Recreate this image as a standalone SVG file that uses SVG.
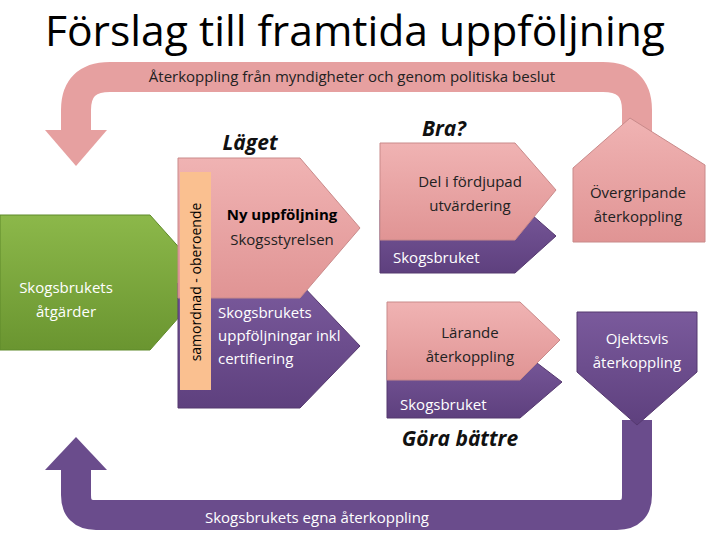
<svg xmlns="http://www.w3.org/2000/svg" width="715" height="552" viewBox="0 0 715 552">
<defs>
<linearGradient id="pk" x1="0" y1="0" x2="0" y2="1"><stop offset="0" stop-color="#f0b3b3"/><stop offset="1" stop-color="#e09494"/></linearGradient>
<linearGradient id="pu" x1="0" y1="0" x2="0" y2="1"><stop offset="0" stop-color="#7a5a9c"/><stop offset="1" stop-color="#5e407e"/></linearGradient>
<linearGradient id="gr" x1="0" y1="0" x2="0" y2="1"><stop offset="0" stop-color="#8cb84a"/><stop offset="1" stop-color="#6a9530"/></linearGradient>
</defs>
<style>
text{font-family:"Open Sans","Noto Sans","Liberation Sans",sans-serif;font-size:15px;fill:#222}
.w{fill:#fff}
.c{text-anchor:middle}
.h{font-weight:bold;font-style:italic;font-size:21px;fill:#111}
.pk{fill:url(#pk);stroke:#c98a8a;stroke-width:1}
.pu{fill:url(#pu);stroke:#55386f;stroke-width:1}
</style>
<rect width="715" height="552" fill="#fff"/>
<text x="355" y="46" class="c" style="font-size:42px;fill:#000" textLength="620" lengthAdjust="spacingAndGlyphs">Förslag till framtida uppföljning</text>
<g id="connectors">
<path d="M76,132 V110 Q76,77 110,77 H603 Q637,77 637,110 V140" fill="none" stroke="#e6a0a0" stroke-width="30"/>
<polygon points="45,130 107,130 76,166" fill="#e6a0a0"/>
<text x="352" y="82" class="c">Återkoppling från myndigheter och genom politiska beslut</text>
<path d="M637,420 V495 Q637,515 617,515 H96 Q76,515 76,495 V468" fill="none" stroke="#6a4c8c" stroke-width="30"/>
<polygon points="45,470 107,470 76,437" fill="#6a4c8c"/>
<text x="317" y="523" class="w c">Skogsbrukets egna återkoppling</text>
</g>
<g id="overgripande">
<polygon class="pk" points="573,168 630,118 705,165 705,242 573,242"/>
<text x="638" y="198" class="c">Övergripande</text>
<text x="638" y="222" class="c">återkoppling</text>
</g>
<g id="skogsbrukets-atgarder">
<polygon points="0,215 150,215 210,282 150,350 0,350" fill="url(#gr)" stroke="#5f8a2a"/>
<text x="66" y="293" class="w c">Skogsbrukets</text>
<text x="66" y="317" class="w c">åtgärder</text>
</g>
<g id="laget">
<text x="250" y="150" class="h c">Läget</text>
<polygon class="pu" points="178,283 300,283 360,346 300,408 178,408"/>
<polygon class="pk" points="178,158 300,158 360,228 300,298 178,298"/>
<rect x="180" y="172" width="31" height="218" fill="#fac090"/>
<text transform="translate(201,282) rotate(-90)" class="c" style="font-size:14px;fill:#000">samordnad - oberoende</text>
<text x="282" y="220" class="c" style="font-weight:bold;fill:#000">Ny uppföljning</text>
<text x="282" y="245" class="c">Skogsstyrelsen</text>
<text x="218" y="318" class="w">Skogsbrukets</text>
<text x="218" y="341" class="w">uppföljningar inkl</text>
<text x="218" y="364" class="w">certifiering</text>
</g>
<g id="bra">
<text x="444" y="136" class="h c">Bra?</text>
<polygon class="pu" points="380,200 515,200 556,236 515,273 380,273"/>
<polygon class="pk" points="380,143 515,143 556,190 515,240 380,240"/>
<text x="470" y="187" class="c">Del i fördjupad</text>
<text x="470" y="211" class="c">utvärdering</text>
<text x="393" y="263" class="w">Skogsbruket</text>
</g>
<g id="larande">
<polygon class="pu" points="387,350 520,350 562,382 520,418 387,418"/>
<polygon class="pk" points="387,302 520,302 560,340 520,380 387,380" stroke="#8fb0e0"/>
<text x="470" y="338" class="c">Lärande</text>
<text x="470" y="362" class="c">återkoppling</text>
<text x="400" y="410" class="w">Skogsbruket</text>
<text x="460" y="446" class="h c">Göra bättre</text>
</g>
<g id="objektsvis">
<polygon class="pu" points="577,312 697,312 697,372 637,425 577,372"/>
<text x="637" y="344" class="w c">Ojektsvis</text>
<text x="637" y="368" class="w c">återkoppling</text>
</g>
</svg>
